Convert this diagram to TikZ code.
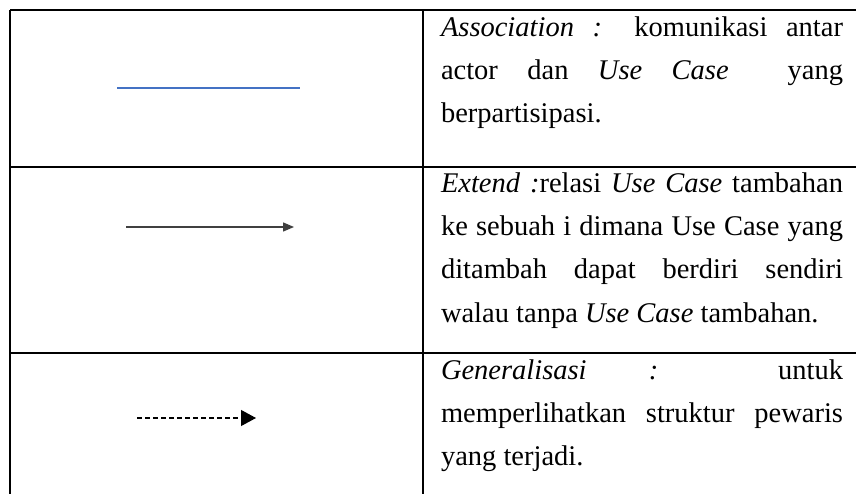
\documentclass[tikz,border=0pt]{standalone}
\usepackage{fontspec}
\setmainfont{Liberation Serif}
\usetikzlibrary{arrows.meta}
\definecolor{assocblue}{RGB}{68,114,196}
\tikzset{
  grid/.style={line width=1.6pt, black},
  txt/.style={anchor=base west, inner sep=0pt, outer sep=0pt, font=\fontsize{28.5}{43}\selectfont},
  assoc/.style={line width=1.6pt, assocblue},
  extendarrow/.style={line width=1.3pt, black!75, -{Triangle[length=11pt,width=9pt]}},
  genarrow/.style={line width=1.1pt, black, dash pattern=on 5pt off 3pt, -{Triangle[length=15pt,width=16pt]}}
}
\newcommand{\jline}[1]{\makebox[402pt][s]{#1}}
\begin{document}
\begin{tikzpicture}[x=1pt,y=-1pt]
\useasboundingbox (0,0) rectangle (856,494);
% table grid
\draw[grid] (10,10) -- (856,10);
\draw[grid] (10,167) -- (856,167);
\draw[grid] (10,353) -- (856,353);
\draw[grid] (10,10) -- (10,494);
\draw[grid] (423,10) -- (423,494);
% row 1: association
\coordinate (as1) at (117,88);
\coordinate (as2) at (300,88);
\draw[assoc] (as1) -- (as2);
\node[txt] (t11) at (441,37) {\jline{\textit{Association :} komunikasi antar}};
\node[txt] (t12) at (441,80) {\jline{actor dan \textit{Use Case}\ \ yang}};
\node[txt] (t13) at (441,123) {berpartisipasi.};
% row 2: extend
\coordinate (ex1) at (126,227);
\coordinate (ex2) at (294,227);
\draw[extendarrow] (ex1) -- (ex2);
\node[txt] (t21) at (441,193) {\jline{\textit{Extend :}relasi \textit{Use Case} tambahan}};
\node[txt] (t22) at (441,236) {\jline{ke sebuah i dimana Use Case yang}};
\node[txt] (t23) at (441,279) {\jline{ditambah dapat berdiri sendiri}};
\node[txt] (t24) at (441,322) {walau tanpa \textit{Use Case} tambahan.};
% row 3: generalisasi
\coordinate (ge1) at (137,418);
\coordinate (ge2) at (256,418);
\draw[genarrow] (ge1) -- (ge2);
\node[txt] (t31) at (441,379) {\jline{\textit{Generalisasi :} untuk}};
\node[txt] (t32) at (441,422) {\jline{memperlihatkan struktur pewaris}};
\node[txt] (t33) at (441,465) {yang terjadi.};
\end{tikzpicture}
\end{document}
